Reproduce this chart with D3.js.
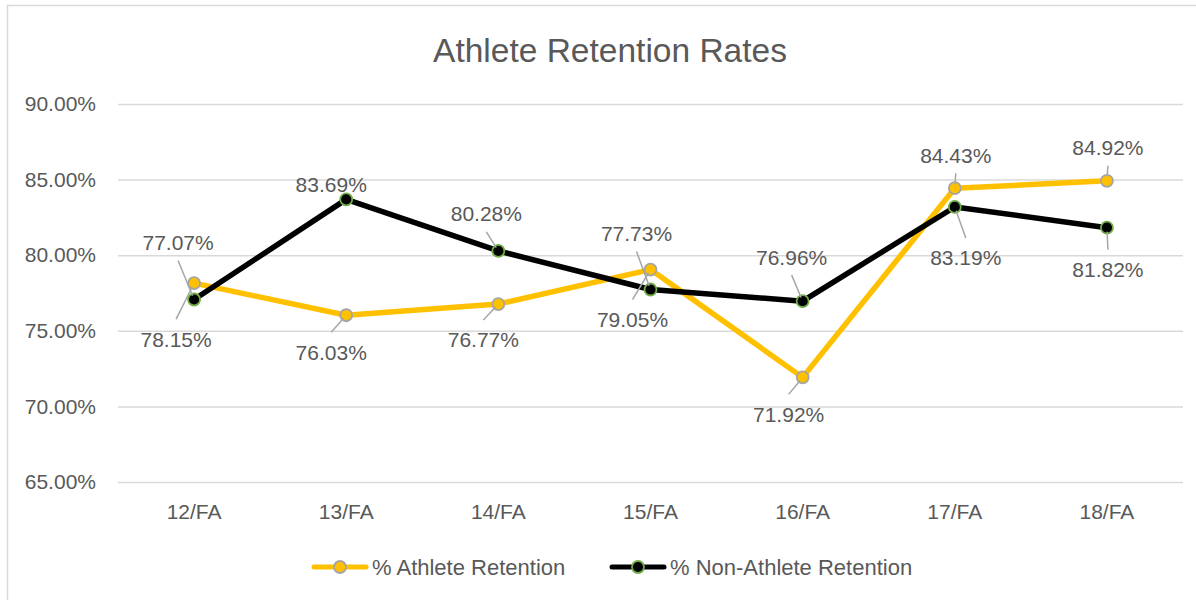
<!DOCTYPE html>
<html>
<head>
<meta charset="utf-8">
<script src="https://cdn.jsdelivr.net/npm/d3@7"></script>
<style>
  body { margin: 0; background: #fff; }
  text { font-family: "Liberation Sans", Arial, sans-serif; fill: #595959; }
</style>
</head>
<body>
<svg id="chart" width="1196" height="600"></svg>
<script>
const categories = ['12/FA', '13/FA', '14/FA', '15/FA', '16/FA', '17/FA', '18/FA'];
const athlete = [78.15, 76.03, 76.77, 79.05, 71.92, 84.43, 84.92];
const nonAthlete = [77.07, 83.69, 80.28, 77.73, 76.96, 83.19, 81.82];
const yTicks = [65, 70, 75, 80, 85, 90];
const seriesNames = ['% Athlete Retention', '% Non-Athlete Retention'];

// where Excel put each data label, relative to its point (dx, dy, leader?)
const athleteLabelPos = [[-18, 56, 1], [-15, 37, 1], [-15, 36, 1], [-18, 50, 1], [-14, 37, 1], [1, -33, 1], [1, -33, 1]];
const nonAthleteLabelPos = [[-16, -57, 1], [-15, -15, 0], [-12, -37, 1], [-14, -56, 1], [-11, -44, 1], [11, 51, 1], [1, 42, 1]];

const svg = d3.select('#chart');
const plot = { left: 118, right: 1183, top: 104, bottom: 482 };

const x = d3.scaleBand()
    .domain(categories)
    .range([plot.left, plot.right]);
const y = d3.scaleLinear()
    .domain([65, 90])
    .range([plot.bottom, plot.top]);
const px = c => x(c) + x.bandwidth() / 2;

// chart frame
svg.append('rect')
    .attr('x', 7.5).attr('y', 5.5)
    .attr('width', 1300).attr('height', 700)
    .attr('fill', 'none')
    .attr('stroke', '#d9d9d9')
    .attr('stroke-width', 1.5);

svg.append('text')
    .attr('x', 610).attr('y', 50)
    .attr('dy', '0.35em')
    .attr('text-anchor', 'middle')
    .style('font-size', '33.5px')
    .text('Athlete Retention Rates');

// gridlines + y axis labels
const yAxis = svg.append('g')
    .attr('transform', `translate(${plot.left},0)`)
    .call(d3.axisLeft(y)
      .tickValues(yTicks)
      .tickSize(-(plot.right - plot.left))
      .tickPadding(22)
      .tickFormat(d => d.toFixed(2) + '%'));
yAxis.select('.domain').remove();
yAxis.selectAll('.tick line').attr('stroke', '#d9d9d9').attr('stroke-width', 1.5);
yAxis.selectAll('.tick text')
    .style('font-size', '21px')
    .attr('fill', '#595959');

const xAxis = svg.append('g')
    .attr('transform', `translate(0,${plot.bottom})`)
    .call(d3.axisBottom(x).tickSize(0).tickPadding(22));
xAxis.select('.domain').remove();
xAxis.selectAll('.tick text')
    .style('font-size', '21px')
    .attr('fill', '#595959');

const series = [
  { values: athlete, color: '#FFC000', markerStroke: '#A5A5A5', labels: athleteLabelPos },
  { values: nonAthlete, color: '#000000', markerStroke: '#70AD47', labels: nonAthleteLabelPos }
];

const line = d3.line()
    .x((d, i) => px(categories[i]))
    .y(d => y(d));

series.forEach(s => {
  svg.append('path')
      .datum(s.values)
      .attr('d', line)
      .attr('fill', 'none')
      .attr('stroke', s.color)
      .attr('stroke-width', 5.5)
      .attr('stroke-linejoin', 'round');

  svg.append('g').selectAll('circle')
      .data(s.values)
      .join('circle')
      .attr('cx', (d, i) => px(categories[i]))
      .attr('cy', d => y(d))
      .attr('r', 6)
      .attr('fill', s.color)
      .attr('stroke', s.markerStroke)
      .attr('stroke-width', 1.8);
});

// leader lines and data labels
series.forEach(s => {
  s.values.forEach((v, i) => {
    const cx = px(categories[i]), cy = y(v);
    const [dx, dy, leader] = s.labels[i];
    const lx = cx + dx, ly = cy + dy;
    if (leader) {
      const ay = dy < 0 ? ly + 18 : ly - 20;
      const len = Math.hypot(cx - lx, cy - ay);
      const k = (len - 4) / len;
      svg.append('line')
          .attr('x1', lx).attr('y1', ay)
          .attr('x2', lx + (cx - lx) * k)
          .attr('y2', ay + (cy - ay) * k)
          .attr('stroke', '#A6A6A6')
          .attr('stroke-width', 1.5);
    }
    svg.append('text')
        .attr('x', lx).attr('y', ly)
        .attr('dy', '0.35em')
        .attr('text-anchor', 'middle')
        .style('font-size', '21px')
        .text(v.toFixed(2) + '%');
  });
});

// legend
const legend = svg.append('g');
const legendItems = [
  { name: seriesNames[0], x0: 312, s: series[0] },
  { name: seriesNames[1], x0: 610, s: series[1] }
];
legendItems.forEach(it => {
  const g = legend.append('g').attr('transform', `translate(${it.x0},567)`);
  g.append('line')
      .attr('x1', 2).attr('x2', 54)
      .attr('stroke', it.s.color)
      .attr('stroke-width', 5)
      .attr('stroke-linecap', 'round');
  g.append('circle')
      .attr('cx', 28).attr('r', 6)
      .attr('fill', it.s.color)
      .attr('stroke', it.s.markerStroke)
      .attr('stroke-width', 1.8);
  g.append('text')
      .attr('x', 60).attr('dy', '0.35em')
      .style('font-size', '22px')
      .text(it.name);
});
</script>
</body>
</html>
